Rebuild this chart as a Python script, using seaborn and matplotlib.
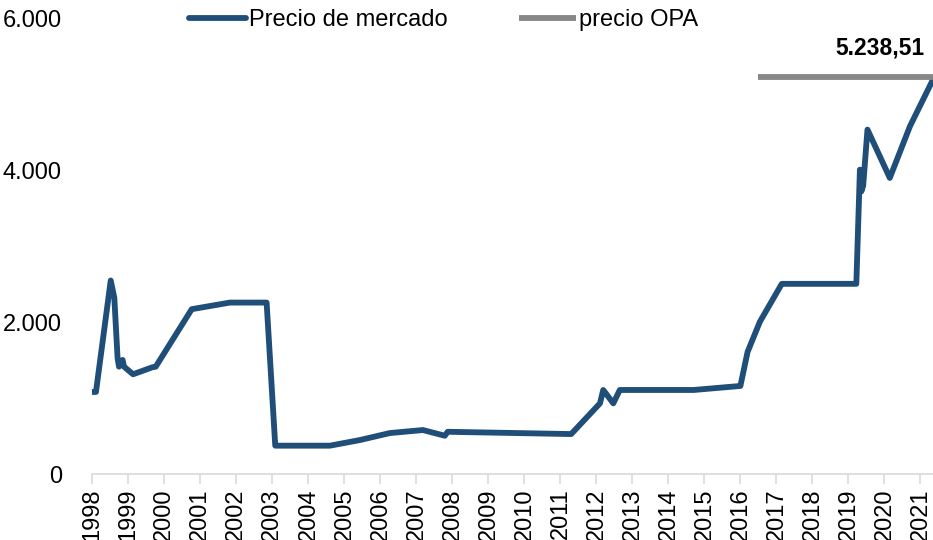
import numpy as np
import pandas as pd
import matplotlib
matplotlib.use('Agg')
import matplotlib.pyplot as plt
import seaborn as sns

# market price, decimal year vs price
years = [1998.0, 1998.10, 1998.51, 1998.61, 1998.70, 1998.74, 1998.84, 1998.88,
         1999.13, 1999.67, 1999.76, 2000.76, 2001.82, 2002.84, 2003.08, 2004.6,
         2005.43, 2006.26, 2007.18, 2007.79, 2007.87, 2011.3, 2012.10, 2012.19,
         2012.47, 2012.65, 2014.7, 2016.0, 2016.2, 2016.54, 2017.15, 2019.22,
         2019.32, 2019.36, 2019.41, 2019.53, 2020.15, 2020.71, 2021.35]
prices = [1083, 1083, 2552, 2323, 1531, 1416, 1505, 1416,
          1316, 1409, 1416, 2174, 2261, 2261, 375, 375,
          449, 541, 581, 506, 558, 528, 933, 1109,
          933, 1109, 1109, 1162, 1611, 2007, 2508, 2508,
          4013, 3727, 3800, 4541, 3904, 4585, 5201]

opa_years = [2016.49, 2021.35]
opa_price = [5238.51, 5238.51]
opa_label = "5.238,51"

year_ticks = list(range(1998, 2022))
y_ticks = [0, 2000, 4000, 6000]
y_labels = ["0", "2.000", "4.000", "6.000"]

sns.set_theme(style="white")
plt.rcParams['font.family'] = ['Liberation Sans', 'DejaVu Sans']
plt.rcParams['text.color'] = 'black'
plt.rcParams['xtick.color'] = 'black'
plt.rcParams['ytick.color'] = 'black'

df = pd.DataFrame({'year': years, 'price': prices})
opa = pd.DataFrame({'year': opa_years, 'price': opa_price})

fig = plt.figure(figsize=(9.33, 5.4), dpi=100)
ax = fig.add_axes([0.099, 0.122, 0.901, 0.843])

sns.lineplot(data=df, x='year', y='price', ax=ax, color='#1F4E79', linewidth=4.2,
             label='Precio de mercado', solid_capstyle='round', solid_joinstyle='round')
sns.lineplot(data=opa, x='year', y='price', ax=ax, color='#878787', linewidth=4.2,
             label='precio OPA', solid_capstyle='butt')

ax.text(2021.1, 5238.51 + 220, opa_label, ha='right', va='bottom',
        fontsize=16.5, fontweight='bold', color='black')

ax.set_xlim(1998, 2021.35)
ax.set_ylim(0, 6000)
ax.set_xticks(year_ticks)
ax.set_xticklabels([str(y) for y in year_ticks], rotation=90, fontsize=17)
ax.set_yticks(y_ticks)
ax.set_yticklabels(y_labels, fontsize=17)
ax.set_xlabel('')
ax.set_ylabel('')

for s in ['top', 'right', 'left']:
    ax.spines[s].set_visible(False)
ax.spines['bottom'].set_color('#D9D9D9')
ax.spines['bottom'].set_linewidth(1.2)
ax.tick_params(axis='x', bottom=True, length=7, width=1.2, color='#D9D9D9',
               labelcolor='black', pad=3)
ax.tick_params(axis='y', left=False, labelcolor='black', pad=16)

leg = ax.legend(loc='center', bbox_to_anchor=(0.418, 0.997), ncol=2, frameon=False,
                fontsize=17, handlelength=2.4, handletextpad=0.15, columnspacing=3.0)
for t in leg.get_texts():
    t.set_color('black')

fig.savefig('out.png', dpi=100)
